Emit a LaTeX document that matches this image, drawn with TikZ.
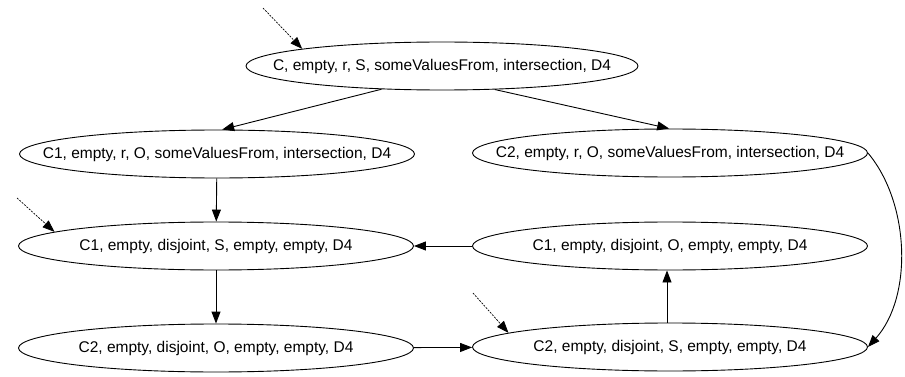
\documentclass[tikz,border=0pt]{standalone}
\usepackage{fontspec}
\setmainfont{Liberation Sans}
\usetikzlibrary{arrows.meta,shapes.geometric}
\newcommand\statelbl[1]{\makebox[0pt]{#1}}
\begin{document}
\begin{tikzpicture}[x=1pt,y=-1pt,
  state/.style={ellipse, draw, line width=0.9pt, inner sep=0pt,
    minimum width=395pt, minimum height=48pt,
    font=\fontsize{15.5}{18}\selectfont},
  edge/.style={line width=0.9pt, -{Triangle[length=12pt,width=9pt]}},
  init/.style={line width=0.7pt, dash pattern=on 2pt off 1.2pt,
    -{Triangle[length=12pt,width=9pt]}}]
\useasboundingbox (0,0) rectangle (905,377);

\node[state, minimum width=392pt] (A) at (442,66)
  {\statelbl{C, empty, r, S, someValuesFrom, intersection, D4}};
\node[state] (B) at (217,154)
  {\statelbl{C1, empty, r, O, someValuesFrom, intersection, D4}};
\node[state] (C) at (670,153)
  {\statelbl{C2, empty, r, O, someValuesFrom, intersection, D4}};
\node[state] (D) at (216,246)
  {\statelbl{C1, empty, disjoint, S, empty, empty, D4}};
\node[state] (F) at (670,246)
  {\statelbl{C1, empty, disjoint, O, empty, empty, D4}};
\node[state] (E) at (216,348)
  {\statelbl{C2, empty, disjoint, O, empty, empty, D4}};
\node[state] (G) at (670,347)
  {\statelbl{C2, empty, disjoint, S, empty, empty, D4}};

% initial-state markers
\coordinate (iA) at (263,8);
\coordinate (iD) at (17,198);
\coordinate (iG) at (473,293);
\draw[init] (iA) -- (A.173);
\draw[init] (iD) -- (D.175);
\draw[init] (iG) -- (G.175);

% transitions
\draw[edge] (A.201) -- (B.78);
\draw[edge] (A.-24) -- (C.92);
\draw[edge] (B) -- (D);
\draw[edge] (D) -- (E);
\draw[edge] (E) -- (G);
\draw[edge] ([xshift=-3pt]G.north) -- ([xshift=-3pt]F.south);
\draw[edge] (F) -- (D);
\draw[edge] (C.east) .. controls +(42,50) and +(45,-50) .. (G.east);
\end{tikzpicture}
\end{document}
